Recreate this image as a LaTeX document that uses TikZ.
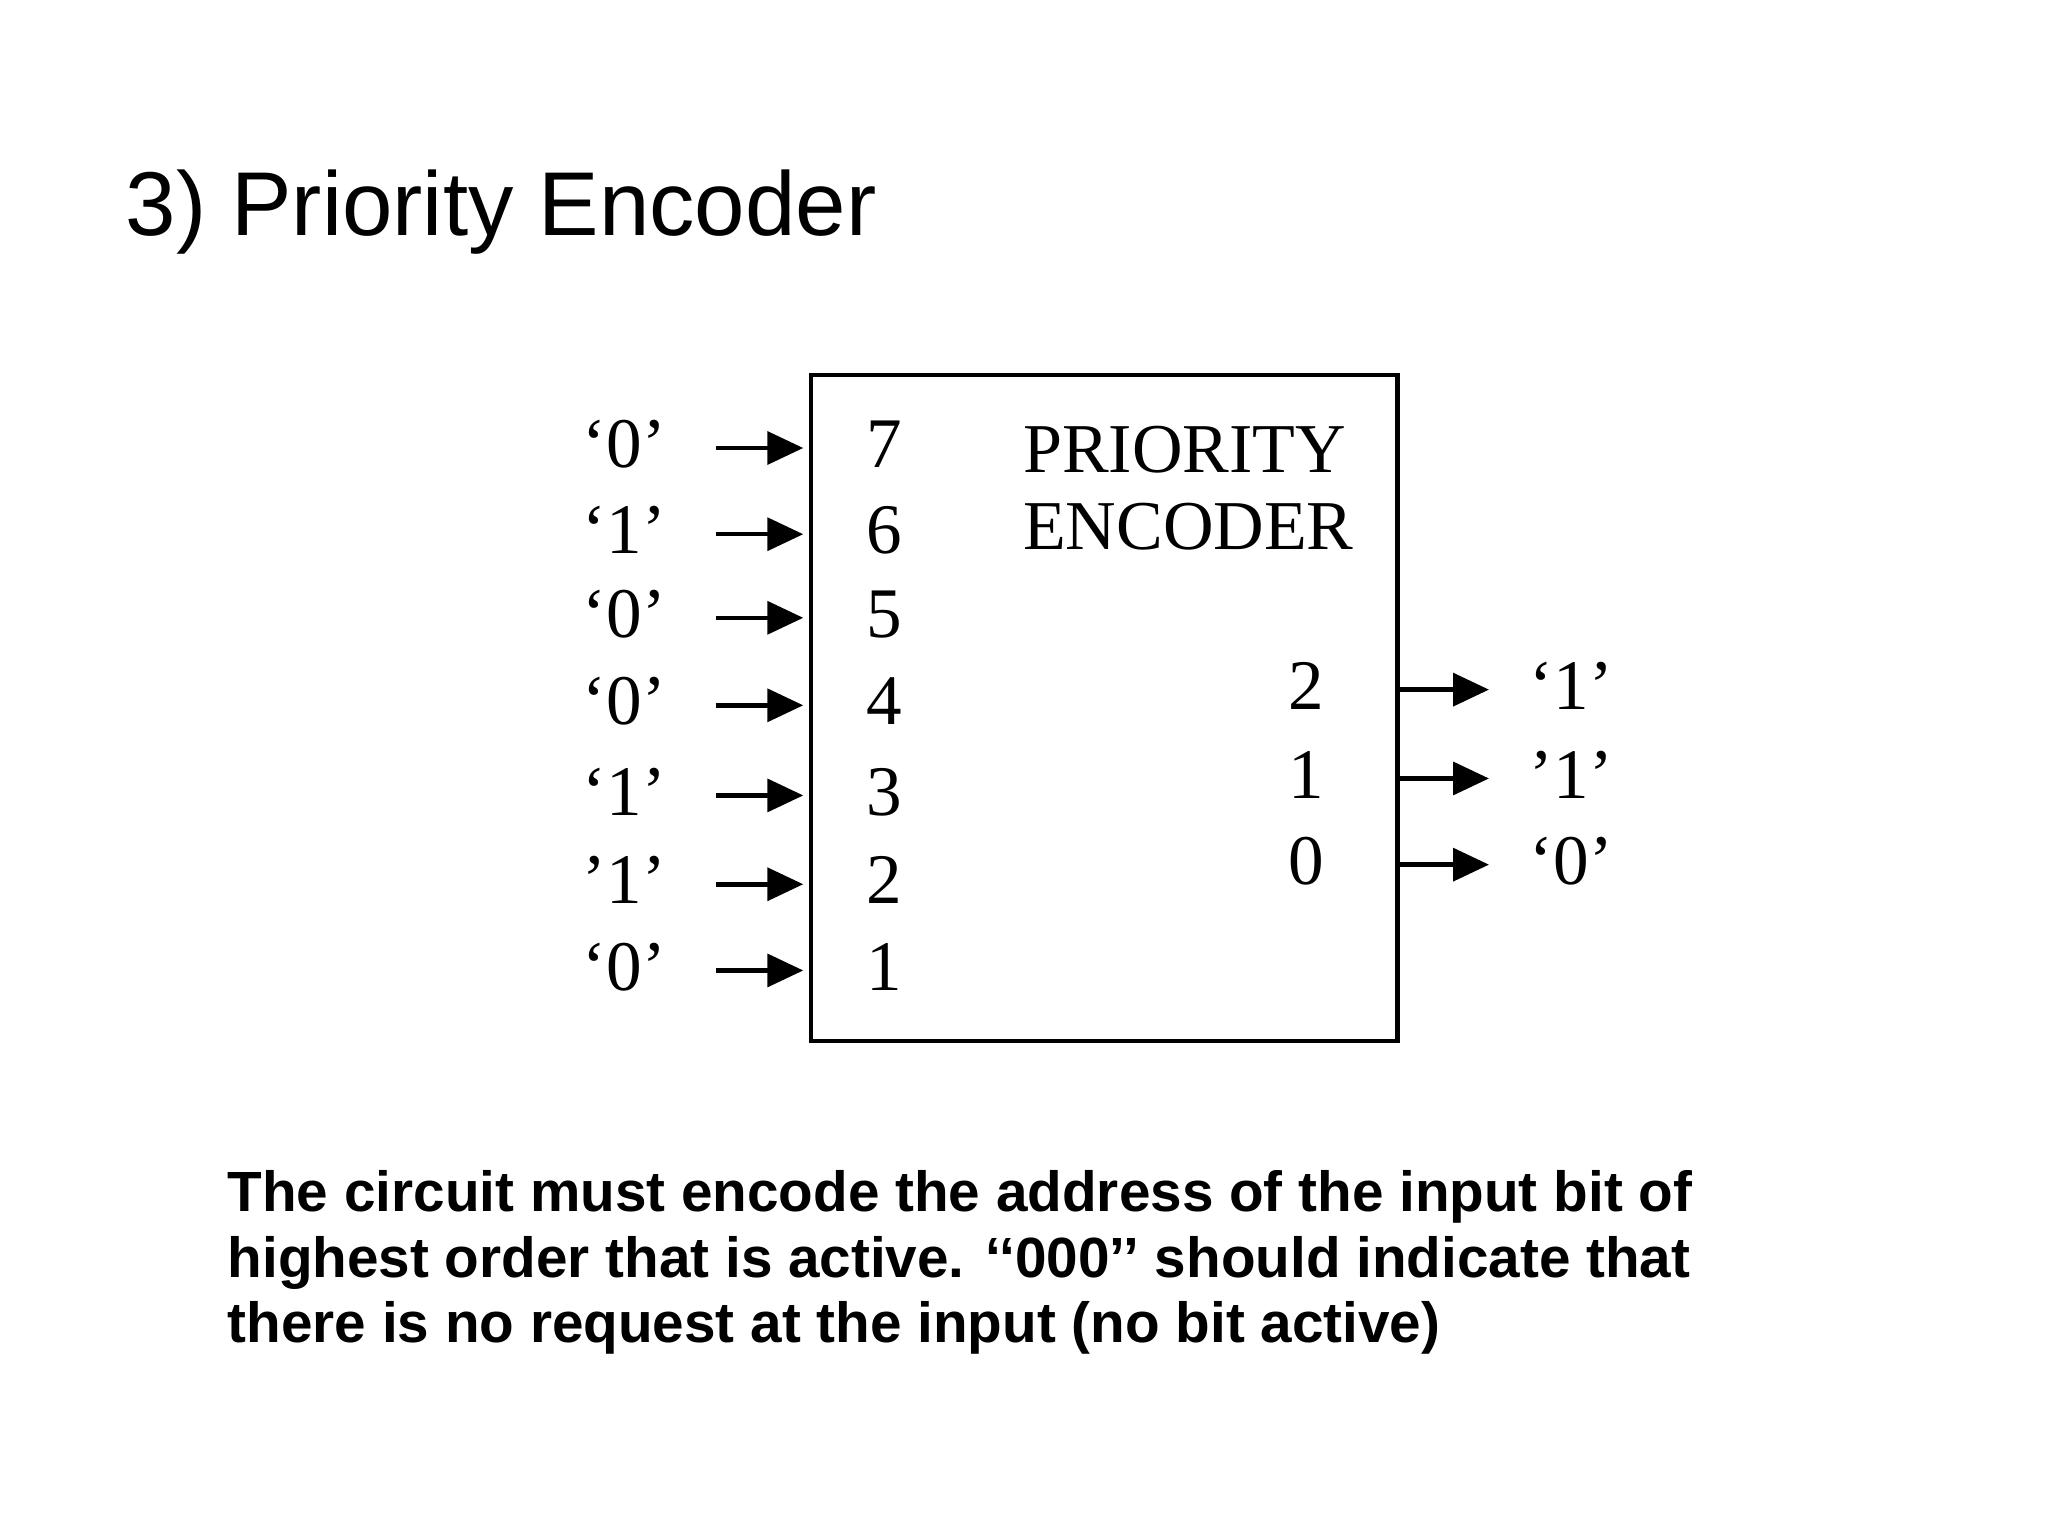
\documentclass[tikz,border=0pt]{standalone}
\usepackage{fontspec}
\setmainfont{Liberation Serif}
\newfontfamily\sansf{Liberation Sans}
\usetikzlibrary{arrows.meta}
\tikzset{
 sig/.style={line width=0.07cm,-{Triangle[length=0.55cm,width=0.5cm]}},
 dig/.style={font=\fontsize{31}{31}\selectfont,anchor=base},
 val/.style={font=\fontsize{31}{31}\selectfont,anchor=base},
}
\begin{document}
\begin{tikzpicture}[x=0.02cm,y=-0.02cm]
\useasboundingbox (0,0) rectangle (1568,1176);
\node[anchor=base west,font=\sansf\fontsize{39.5}{40}\selectfont,inner sep=0] (title) at (96,180) {3) Priority Encoder};
\draw[line width=0.07cm] (621,287) rectangle (1070,797);
\node[anchor=base west,font=\fontsize{30.5}{31}\selectfont,inner sep=0] (pr) at (783,362) {PRIORITY};
\node[anchor=base west,font=\fontsize{30.5}{31}\selectfont,inner sep=0] (en) at (783,421) {ENCODER};
\foreach \n/\y/\v in {7/358/‘0’,6/424/‘1’,5/488/‘0’,4/555/‘0’,3/624/‘1’,2/692/’1’,1/758/‘0’}{
  \node[dig,inner sep=0] (d\n) at (677,\y) {\n};
  \node[val,inner sep=0] (v\n) at (478,\y) {\v};
  \coordinate (s\n) at (548,\y-15);
  \coordinate (e\n) at (615,\y-15);
  \draw[sig] (s\n) -- (e\n);
}
\foreach \n/\y/\v in {2/543/‘1’,1/611/’1’,0/677/‘0’}{
  \node[dig,inner sep=0] (o\n) at (1000,\y) {\n};
  \node[val,inner sep=0] (w\n) at (1203,\y) {\v};
  \coordinate (a\n) at (1072,\y-15);
  \coordinate (b\n) at (1140,\y-15);
  \draw[sig] (a\n) -- (b\n);
}
\node[anchor=base west,align=left,font=\sansf\bfseries\fontsize{24.7}{28.5}\selectfont,inner sep=0] (txt) at (174,1028)
 {The circuit must encode the address of the input bit of\\highest order that is active. ‘‘000’’ should indicate that\\there is no request at the input (no bit active)};
\end{tikzpicture}
\end{document}
